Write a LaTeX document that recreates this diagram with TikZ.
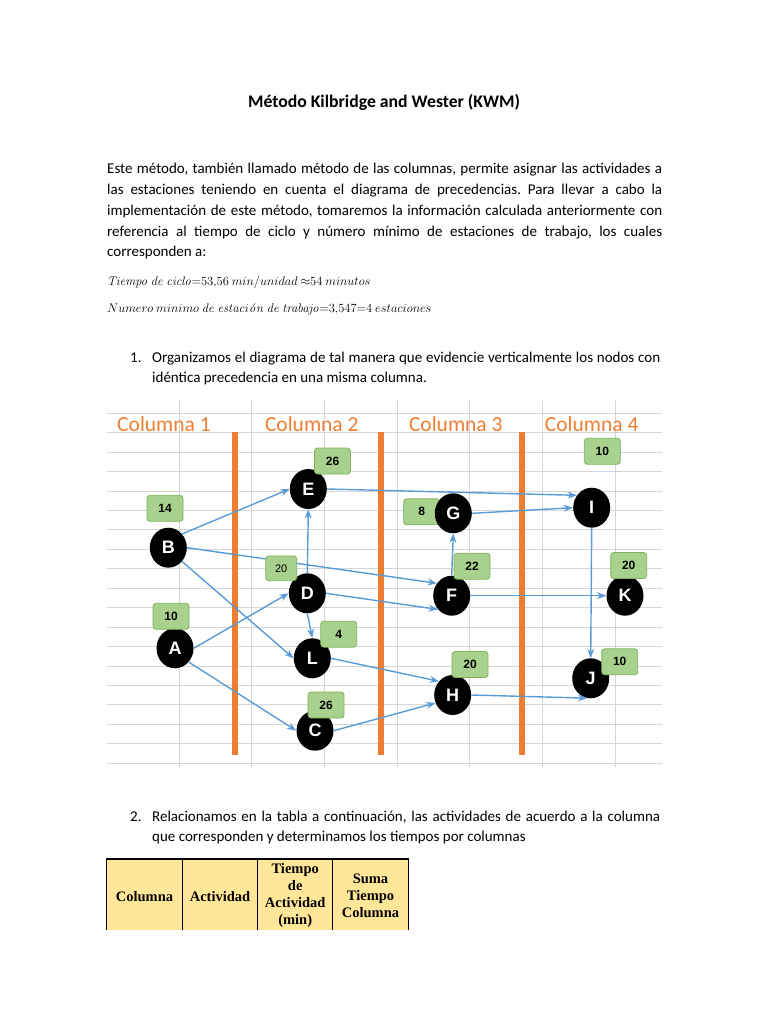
\RequirePackage{fix-cm}
\documentclass[tikz,border=0pt]{standalone}
\usepackage[no-math]{fontspec}
\setmainfont{Carlito}
\newfontfamily\arialfont{Liberation Sans}
\newfontfamily\timesfont{Liberation Serif}
\usetikzlibrary{arrows.meta, shapes.geometric}

\definecolor{kwmorange}{HTML}{ED7D31}
\definecolor{kwmblue}{HTML}{5B9BD5}
\definecolor{kwmgrid}{HTML}{D6D6D6}
\definecolor{kwmgreen}{HTML}{A9D18E}
\definecolor{kwmgreenline}{HTML}{7FB25A}
\definecolor{kwmyellow}{HTML}{FFE699}

\newcommand{\jline}[2]{\makebox[#1][s]{#2}}
\frenchspacing

\begin{document}
\begin{tikzpicture}[x=1pt, y=-1pt, >=Stealth,
  act/.style={ellipse, fill=black, minimum width=37pt, minimum height=40pt, inner sep=0pt,
    text=white, font=\arialfont\bfseries\fontsize{18}{18}\selectfont},
  tbox/.style={rectangle, rounded corners=3pt, fill=kwmgreen, draw=kwmgreenline, line width=0.8pt,
    minimum width=36pt, minimum height=26pt, font=\arialfont\bfseries\fontsize{12}{12}\selectfont},
  prec/.style={->, kwmblue, line width=1.4pt},
  coltitle/.style={text=kwmorange, font=\fontsize{21.5}{22}\selectfont},
  body/.style={anchor=base west, inner sep=0pt, font=\fontsize{15}{18}\selectfont},
  eqline/.style={anchor=base west, inner sep=0pt, font=\fontsize{12.5}{16}\selectfont},
  hcell/.style={align=center, inner sep=0pt, font=\timesfont\bfseries\fontsize{14.5}{17}\selectfont}
]
  \useasboundingbox (0,0) rectangle (768,1024);

  % title and text
  \node[anchor=base, font=\bfseries\fontsize{17.7}{20}\selectfont] (title) at (384,107.3) {Método Kilbridge and Wester (KWM)};
  \node[body] (p1) at (107,174) {\jline{555pt}{Este método, también llamado método de las columnas, permite asignar las actividades a}};
  \node[body] (p2) at (107,194.7) {\jline{555pt}{las estaciones teniendo en cuenta el diagrama de precedencias. Para llevar a cabo la}};
  \node[body] (p3) at (107,215.4) {\jline{555pt}{implementación de este método, tomaremos la información calculada anteriormente con}};
  \node[body] (p4) at (107,236.1) {\jline{555pt}{referencia al tiempo de ciclo y número mínimo de estaciones de trabajo, los cuales}};
  \node[body] (p5) at (107,256.8) {corresponden a:};
  \node[eqline] (m1) at (107,285) {$\mathit{Tiempo\ de\ ciclo}{=}53{,}56\ min/unidad\ {\approx}54\ minutos$};
  \node[eqline] (m2) at (107,312.7) {$Numero\ minimo\ \mathit{de\ estaci\acute{o}n\ de\ trabajo}{=}3{,}547{=}4\ estaciones$};
  \node[body] (n1) at (130,362.7) {1.};
  \node[body] (i1a) at (152,362.7) {\jline{508pt}{Organizamos el diagrama de tal manera que evidencie verticalmente los nodos con}};
  \node[body] (i1b) at (152,382.7) {idéntica precedencia en una misma columna.};

  % grid of the sheet
  \foreach \k in {0,...,18}
    \draw[kwmgrid, line width=0.9pt] (106.7,{413.3+19.44*\k}) -- (661.7,{413.3+19.44*\k});
  \foreach \j in {0,...,6}
    \draw[kwmgrid, line width=0.9pt] ({179+72.67*\j},400) -- ({179+72.67*\j},767);

  % column separators
  \foreach \x in {235,380.8,522}
    \fill[kwmorange] (\x-2.8,432.3) rectangle (\x+2.8,755);
  \node[coltitle] (c1) at (164,424) {Columna 1};
  \node[coltitle] (c2) at (311.8,424) {Columna 2};
  \node[coltitle] (c3) at (455.8,424) {Columna 3};
  \node[coltitle] (c4) at (591.7,424) {Columna 4};

  % activities
  \node[tbox] (tG) at (421.7,511.8) {8};
  \node[act] (B) at (168.3,547.7) {B};
  \node[act] (A) at (175,648.3) {A};
  \node[act] (E) at (308.3,489) {E};
  \node[act] (D) at (307.3,593.3) {D};
  \node[act] (L) at (312.3,658.3) {L};
  \node[act] (C) at (315,730.7) {C};
  \node[act] (G) at (453.3,513.3) {G};
  \node[act] (F) at (451.7,595.7) {F};
  \node[act] (H) at (452.7,695) {H};
  \node[act] (I) at (591.7,507.7) {I};
  \node[act] (K) at (625,595.7) {K};
  \node[act] (J) at (590.7,678.3) {J};

  % precedences
  \draw[prec] (B.45) -- (E.west);
  \draw[prec] (B.east) -- (F.140);
  \draw[prec] (B.-45) -- (L.west);
  \draw[prec] (A.east) -- (D.west);
  \draw[prec] (A.-45) -- (C.west);
  \draw[prec] (D.north) -- (E.south);
  \draw[prec] (D.south) -- (L.north);
  \draw[prec] (D.east) -- (F.-135);
  \draw[prec] (E.east) -- (I.140);
  \draw[prec] (G.east) -- (I.west);
  \draw[prec] (F.north) -- (G.south);
  \draw[prec] (F.east) -- (K.west);
  \draw[prec] (I.south) -- (J.north);
  \draw[prec] (L.east) -- (H.135);
  \draw[prec] (C.east) -- (H.205);
  \draw[prec] (H.east) -- (J.-100);

  % times
  \node[tbox] (tE) at (332.5,461) {26};
  \node[tbox] (tB) at (165,508.3) {14};
  \node[tbox, minimum width=31pt, minimum height=24.7pt, font=\arialfont\fontsize{11}{11}\selectfont] (tD) at (281.2,568.3) {20};
  \node[tbox] (tA) at (171,616.3) {10};
  \node[tbox] (tL) at (338.7,634.2) {4};
  \node[tbox] (tC) at (326,705) {26};
  \node[tbox] (tI) at (602.3,451.3) {10};
  \node[tbox] (tF) at (472,566.2) {22};
  \node[tbox] (tK) at (628.7,565.5) {20};
  \node[tbox] (tH) at (470,664.5) {20};
  \node[tbox] (tJ) at (619.7,661.8) {10};

  % second step and table
  \node[body] (n2) at (130,821.7) {2.};
  \node[body] (i2a) at (152,821.7) {\jline{508pt}{Relacionamos en la tabla a continuación, las actividades de acuerdo a la columna}};
  \node[body] (i2b) at (152,841.7) {que corresponden y determinamos los tiempos por columnas};

  \fill[kwmyellow] (106.7,859) rectangle (408.3,930);
  \draw[line width=1.3pt] (106.7,930) -- (106.7,859) -- (408.3,859) -- (408.3,930);
  \foreach \x in {182.3,257.7,332.7}
    \draw[line width=1.3pt] (\x,859) -- (\x,930);
  \node[hcell] (h1) at (144.5,896.5) {Columna};
  \node[hcell] (h2) at (220,896.5) {Actividad};
  \node[hcell] (h3) at (295.2,895.5) {Tiempo\\de\\Actividad\\(min)};
  \node[hcell] (h4) at (370.5,895.7) {Suma\\Tiempo\\Columna};
\end{tikzpicture}
\end{document}
